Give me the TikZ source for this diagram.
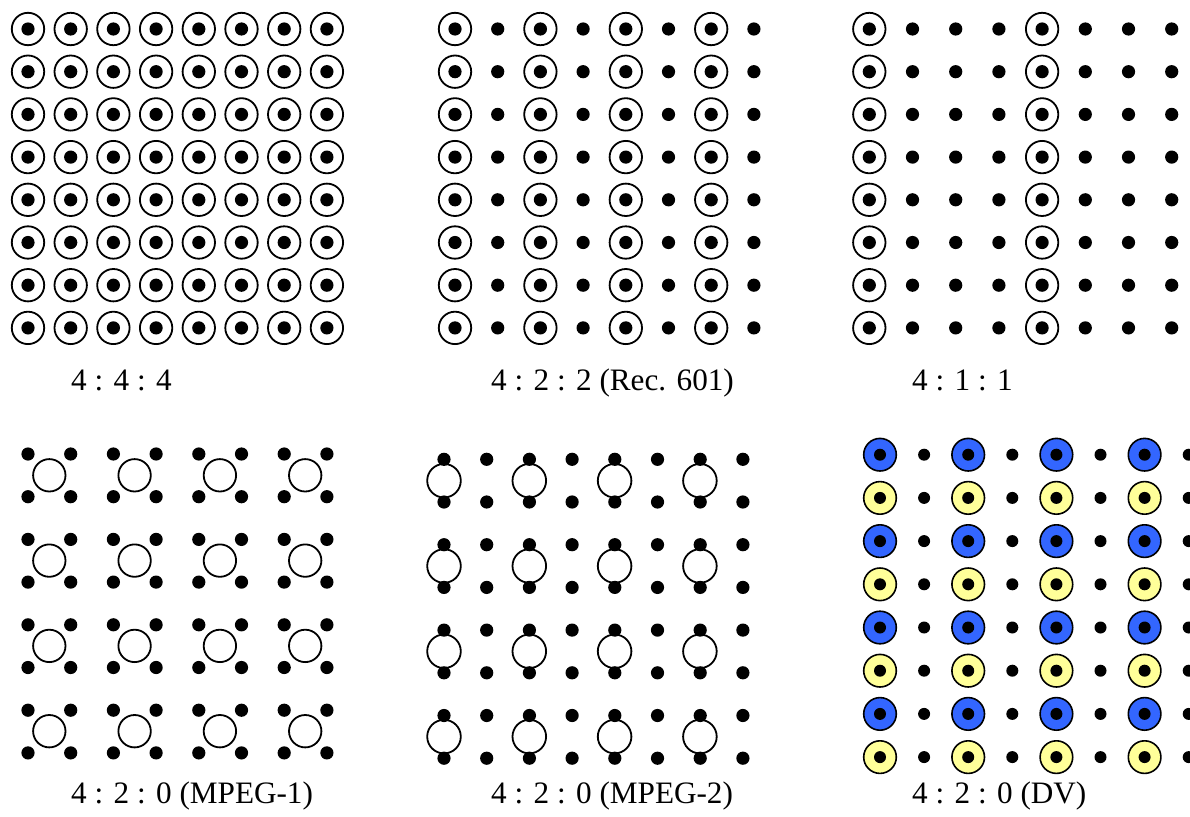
\documentclass[tikz,border=0pt]{standalone}
\usepackage{fontspec}
\setmainfont{Liberation Serif}
\definecolor{dvblue}{HTML}{3366FF}
\definecolor{dvyellow}{HTML}{FFFF99}
\tikzset{
  ring/.style={draw=black,line width=1.8pt},
  dvring/.style={draw=black,line width=1.6pt},
  lbl/.style={anchor=base west,inner sep=0pt,font=\fontsize{31.2}{37}\selectfont},
}
\begin{document}
\begin{tikzpicture}[x=1pt,y=-1pt]
\path[use as bounding box] (0,0) rectangle (1190,816);
\clip (0,0) rectangle (1190,816);
% 4:4:4
\foreach \i in {0,...,7}{\foreach \j in {0,...,7}{
  \draw[ring] ({28+42.7*\i},{29+42.7*\j}) circle[radius=16.2pt];
  \fill ({28+42.7*\i},{29+42.7*\j}) circle[radius=6.6pt];
}}
% 4:2:2
\foreach \i in {0,...,7}{\foreach \j in {0,...,7}{
  \ifodd\i\else
    \draw[ring] ({455+42.7*\i},{29+42.7*\j}) circle[radius=16.2pt];
  \fi
  \fill ({455+42.7*\i},{29+42.7*\j}) circle[radius=6.6pt];
}}
% 4:1:1
\foreach \i in {0,...,7}{\foreach \j in {0,...,7}{
  \pgfmathtruncatemacro{\m}{mod(\i,4)}
  \ifnum\m=0
    \draw[ring] ({869.3+43.2*\i},{29+42.7*\j}) circle[radius=16.2pt];
  \fi
  \fill ({869.3+43.2*\i},{29+42.7*\j}) circle[radius=6.6pt];
}}
% 4:2:0 MPEG-1
\foreach \m in {0,...,3}{\foreach \n in {0,...,3}{
  \draw[ring] ({49.3+85.3*\m},{475.3+85.3*\n}) circle[radius=16.2pt];
}}
\foreach \i in {0,...,7}{\foreach \j in {0,...,7}{
  \fill ({28+42.7*\i},{454+42.7*\j}) circle[radius=6.6pt];
}}
% 4:2:0 MPEG-2
\foreach \m in {0,...,3}{\foreach \n in {0,...,3}{
  \draw[ring] ({444+85.3*\m},{480.7+85.3*\n}) circle[radius=16.8pt];
}}
\foreach \i in {0,...,7}{\foreach \j in {0,...,7}{
  \fill ({444+42.7*\i},{459.3+42.7*\j}) circle[radius=6.6pt];
}}
% 4:2:0 DV
\foreach \i in {0,...,7}{\foreach \j in {0,...,7}{
  \ifodd\i
    \fill ({880+44.1*\i},{454.7+43.2*\j}) circle[radius=6pt];
  \else
    \ifodd\j
      \filldraw[dvring,fill=dvyellow] ({880+44.1*\i},{454.7+43.2*\j}) circle[radius=16.3pt];
    \else
      \filldraw[dvring,fill=dvblue] ({880+44.1*\i},{454.7+43.2*\j}) circle[radius=16.3pt];
    \fi
    \fill ({880+44.1*\i},{454.7+43.2*\j}) circle[radius=6pt];
  \fi
}}
% labels
\node[lbl] (l444) at (71,390) {4 : 4 : 4};
\node[lbl] (l422) at (491,390) {4 : 2 : 2 (Rec. 601)};
\node[lbl] (l411) at (912,390) {4 : 1 : 1};
\node[lbl] (lm1) at (71,803) {4 : 2 : 0 (MPEG-1)};
\node[lbl] (lm2) at (491,803) {4 : 2 : 0 (MPEG-2)};
\node[lbl] (ldv) at (912,803) {4 : 2 : 0 (DV)};
\end{tikzpicture}
\end{document}
